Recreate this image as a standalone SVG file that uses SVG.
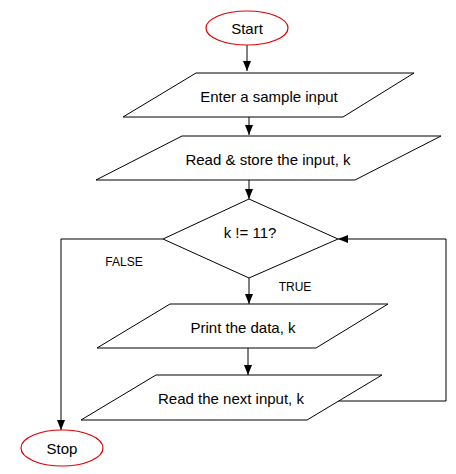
<svg xmlns="http://www.w3.org/2000/svg" width="456" height="474" viewBox="0 0 456 474">
<defs>
<style>
.shape{fill:#fff;stroke:#000;stroke-width:1}
.term{fill:#fff;stroke:#e00000;stroke-width:1.2}
.lbl{font-family:"Liberation Sans",Arial,sans-serif;font-size:15px;fill:#000;text-anchor:middle;dominant-baseline:central}
.small{font-family:"Liberation Sans",Arial,sans-serif;font-size:12px;fill:#000;text-anchor:middle;dominant-baseline:central}
.conn{fill:none;stroke:#000;stroke-width:1}
</style>
<marker id="arr" viewBox="0 0 10 10" refX="10" refY="5" markerWidth="10" markerHeight="10" markerUnits="userSpaceOnUse" orient="auto">
<path d="M0,1 L10,5 L0,9 Z" fill="#000"/>
</marker>
</defs>
<rect width="456" height="474" fill="#fff"/>
<g id="connectors">
<path class="conn" d="M247,45 V71" marker-end="url(#arr)"/>
<path class="conn" d="M249,117 V135" marker-end="url(#arr)"/>
<path class="conn" d="M249,180 V199" marker-end="url(#arr)"/>
<path class="conn" d="M163,239 H61 V430" marker-end="url(#arr)"/>
<path class="conn" d="M249,278 V304" marker-end="url(#arr)"/>
<path class="conn" d="M248,348 V375" marker-end="url(#arr)"/>
<path class="conn" d="M333,401 H446 V239 H338" marker-end="url(#arr)"/>
</g>
<g id="start">
<ellipse class="term" cx="247" cy="28" rx="41" ry="17"/>
<text class="lbl" x="247" y="28">Start</text>
</g>
<g id="enter">
<polygon class="shape" points="196,73 414,73 343,117 123,117"/>
<text class="lbl" x="269" y="96">Enter a sample input</text>
</g>
<g id="readstore">
<polygon class="shape" points="182,136 441,136 355,180 96,180"/>
<text class="lbl" x="268" y="159">Read &amp; store the input, k</text>
</g>
<g id="decision">
<polygon class="shape" points="249,199 338,239 249,278 163,239"/>
<text class="lbl" x="250" y="232">k != 11?</text>
</g>
<g id="print">
<polygon class="shape" points="170,304 388,304 316,348 97,348"/>
<text class="lbl" x="243" y="327">Print the data, k</text>
</g>
<g id="readnext">
<polygon class="shape" points="156,375 382,375 307,420 81,420"/>
<text class="lbl" x="231" y="398">Read the next input, k</text>
</g>
<g id="stop">
<ellipse class="term" cx="62" cy="448" rx="41" ry="18"/>
<text class="lbl" x="62" y="448">Stop</text>
</g>
<g id="labels">
<text class="small" x="124" y="262">FALSE</text>
<text class="small" x="295" y="287">TRUE</text>
</g>
</svg>
